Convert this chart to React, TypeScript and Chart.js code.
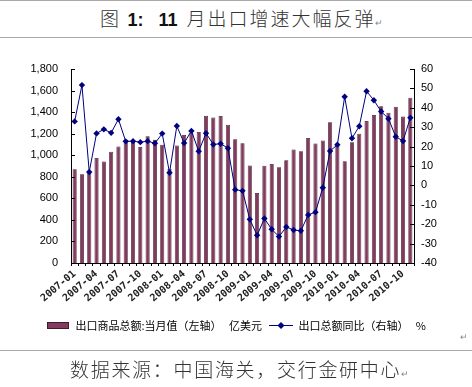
import React, { useEffect, useRef } from "react";
import { Chart, registerables } from "chart.js";

Chart.register(...registerables);

const categories = [
  "2007-01", "2007-02", "2007-03", "2007-04", "2007-05", "2007-06", "2007-07", "2007-08", "2007-09", "2007-10", "2007-11", "2007-12",
  "2008-01", "2008-02", "2008-03", "2008-04", "2008-05", "2008-06", "2008-07", "2008-08", "2008-09", "2008-10", "2008-11", "2008-12",
  "2009-01", "2009-02", "2009-03", "2009-04", "2009-05", "2009-06", "2009-07", "2009-08", "2009-09", "2009-10", "2009-11", "2009-12",
  "2010-01", "2010-02", "2010-03", "2010-04", "2010-05", "2010-06", "2010-07", "2010-08", "2010-09", "2010-10", "2010-11",
];

// 出口商品总额:当月值（亿美元）
const exportValues = [
  869, 824, 837, 974, 942, 1032, 1080, 1130, 1124, 1077, 1176, 1144,
  1097, 874, 1090, 1187, 1205, 1216, 1367, 1349, 1364, 1283, 1149, 1112,
  905, 649, 903, 919, 888, 954, 1054, 1037, 1159, 1108, 1137, 1307,
  1095, 945, 1121, 1199, 1318, 1374, 1455, 1393, 1449, 1360, 1533,
];

// 出口总额同比（%）
const exportYoY = [
  33.0, 51.7, 6.9, 26.8, 28.9, 27.1, 34.1, 22.7, 22.8, 22.3, 22.8, 21.7,
  26.7, 6.5, 30.6, 21.8, 28.1, 17.6, 26.9, 21.1, 21.5, 19.2, -2.2, -2.8,
  -17.5, -25.7, -17.1, -22.6, -26.4, -21.4, -23.0, -23.4, -15.2, -13.8, -1.2, 17.7,
  21.0, 45.7, 24.3, 30.5, 48.5, 43.9, 38.1, 34.4, 25.1, 22.9, 34.9,
];

const barLabel = "出口商品总额:当月值（左轴）   亿美元";
const lineLabel = "出口总额同比（右轴）   %";
const titleMain = "月出口增速大幅反弹";
const sourceText = "数据来源：中国海关，交行金研中心";

const leftMin = 0;
const leftMax = 1800;
const leftStep = 200;
const rightMin = -40;
const rightMax = 60;
const rightStep = 10;

const BAR_COLOR = "#843a5f";
const BAR_BORDER = "#3f1a2d";
const LINE_COLOR = "#000080";

function makeBarSwatch() {
  const c = document.createElement("canvas");
  c.width = 22;
  c.height = 7;
  const g = c.getContext("2d")!;
  g.fillStyle = BAR_COLOR;
  g.fillRect(0, 0, 22, 7);
  g.strokeStyle = BAR_BORDER;
  g.lineWidth = 1;
  g.strokeRect(0.5, 0.5, 21, 6);
  return c;
}

function makeLineSwatch() {
  const c = document.createElement("canvas");
  c.width = 24;
  c.height = 9;
  const g = c.getContext("2d")!;
  g.strokeStyle = LINE_COLOR;
  g.lineWidth = 1;
  g.beginPath();
  g.moveTo(0, 4.5);
  g.lineTo(24, 4.5);
  g.stroke();
  g.fillStyle = LINE_COLOR;
  g.beginPath();
  g.moveTo(12, 1);
  g.lineTo(15.5, 4.5);
  g.lineTo(12, 8);
  g.lineTo(8.5, 4.5);
  g.closePath();
  g.fill();
  return c;
}

const insideTicks = {
  id: "insideTicks",
  afterDraw(chart: any) {
    const ctx = chart.ctx;
    const yl = chart.scales.y;
    const yr = chart.scales.y1;
    ctx.save();
    ctx.strokeStyle = "#000";
    ctx.lineWidth = 1;
    yl.ticks.forEach((t: any) => {
      const y = Math.round(yl.getPixelForValue(t.value)) + 0.5;
      ctx.beginPath();
      ctx.moveTo(yl.right, y);
      ctx.lineTo(yl.right + 4, y);
      ctx.stroke();
    });
    yr.ticks.forEach((t: any) => {
      const y = Math.round(yr.getPixelForValue(t.value)) + 0.5;
      ctx.beginPath();
      ctx.moveTo(yr.left, y);
      ctx.lineTo(yr.left - 4, y);
      ctx.stroke();
    });
    ctx.restore();
  },
};

export default function App() {
  const canvasRef = useRef<HTMLCanvasElement | null>(null);

  useEffect(() => {
    const barSwatch = makeBarSwatch();
    const lineSwatch = makeLineSwatch();
    const chart = new Chart(canvasRef.current!, {
      type: "bar",
      data: {
        labels: categories,
        datasets: [
          {
            type: "bar",
            label: barLabel,
            data: exportValues,
            yAxisID: "y",
            backgroundColor: BAR_COLOR,
            borderColor: BAR_BORDER,
            borderWidth: 0.75,
            barPercentage: 0.56,
            categoryPercentage: 1,
            order: 1,
          },
          {
            type: "line",
            label: lineLabel,
            data: exportYoY,
            yAxisID: "y1",
            borderColor: LINE_COLOR,
            backgroundColor: LINE_COLOR,
            borderWidth: 1,
            pointStyle: "rectRot",
            pointRadius: 3.2,
            pointBorderWidth: 0,
            pointBackgroundColor: LINE_COLOR,
            tension: 0,
            order: 0,
          } as any,
        ],
      },
      options: {
        responsive: false,
        animation: false,
        devicePixelRatio: 1,
        layout: { padding: { top: 31, left: 0, right: 0, bottom: 7 } },
        plugins: {
          tooltip: { enabled: false },
          legend: {
            position: "bottom",
            labels: {
              usePointStyle: true,
              pointStyleWidth: 24,
              boxHeight: 7,
              padding: 7,
              color: "#000",
              font: { family: '"Noto Sans CJK SC", sans-serif', size: 11 },
              sort: (a: any, b: any) => a.datasetIndex - b.datasetIndex,
              generateLabels(ch: any) {
                const items = (Chart.defaults.plugins.legend.labels as any).generateLabels(ch);
                items.forEach((it: any) => {
                  it.pointStyle = it.datasetIndex === 0 ? barSwatch : lineSwatch;
                });
                return items;
              },
            },
          },
        },
        scales: {
          x: {
            offset: true,
            grid: {
              display: true,
              drawOnChartArea: false,
              drawTicks: true,
              tickLength: 3,
              color: "#000",
              offset: true,
            },
            border: { display: true, color: "#000", width: 1 },
            ticks: {
              autoSkip: false,
              minRotation: 40,
              maxRotation: 40,
              padding: 2,
              color: "#222",
              font: { family: '"DejaVu Sans Mono", monospace', size: 10, weight: "bold" },
              callback: (_v: any, i: number) => (i % 3 === 0 ? categories[i] : ""),
            },
            afterFit(scale: any) {
              scale.height = 50;
            },
          },
          y: {
            position: "left",
            min: leftMin,
            max: leftMax,
            grid: { display: false, drawTicks: false },
            border: { display: true, color: "#000", width: 1 },
            ticks: {
              stepSize: leftStep,
              padding: 13,
              color: "#000",
              font: { family: '"Liberation Sans", Arial, sans-serif', size: 11 },
              callback: (v: any) => Number(v).toLocaleString("en-US"),
            },
            afterFit(scale: any) {
              scale.width = 71;
            },
          },
          y1: {
            position: "right",
            min: rightMin,
            max: rightMax,
            grid: { display: false, drawTicks: false },
            border: { display: true, color: "#000", width: 1 },
            ticks: {
              stepSize: rightStep,
              padding: 7,
              color: "#000",
              font: { family: '"Liberation Sans", Arial, sans-serif', size: 11 },
            },
            afterFit(scale: any) {
              scale.width = 58;
            },
          },
        },
      },
      plugins: [insideTicks],
    });
    return () => chart.destroy();
  }, []);

  const cjk = '"Noto Sans CJK SC", sans-serif';
  const rule = (top: number) => (
    <div style={{ position: "absolute", left: 0, top, width: 472, height: 1, background: "#a8a8a8" }} />
  );

  return (
    <div style={{ position: "fixed", left: 0, top: 0, width: 472, height: 387, background: "#fff", overflow: "hidden" }}>
      {rule(0)}
      <div
        style={{
          position: "absolute",
          left: 100,
          top: 6,
          whiteSpace: "nowrap",
          fontFamily: cjk,
          fontWeight: 300,
          fontSize: 19,
          lineHeight: "24px",
          color: "#333",
        }}
      >
        <span>图&nbsp;&nbsp;</span>
        <span style={{ fontFamily: '"Liberation Sans", Arial, sans-serif', fontWeight: "bold", fontSize: 18, color: "#111" }}>1:&nbsp;&nbsp;&nbsp;11</span>
        <span style={{ letterSpacing: 2, marginLeft: 9 }}>{titleMain}</span>
        <span style={{ fontSize: 9, color: "#888" }}>↵</span>
      </div>
      {rule(37)}
      <canvas ref={canvasRef} width={472} height={310} style={{ position: "absolute", left: 0, top: 38, width: 472, height: 310 }} />
      <div style={{ position: "absolute", left: 460, top: 330, fontSize: 9, color: "#888", fontFamily: cjk }}>↵</div>
      {rule(350)}
      <div
        style={{
          position: "absolute",
          left: 70,
          top: 357,
          whiteSpace: "nowrap",
          fontFamily: cjk,
          fontWeight: 300,
          fontSize: 19,
          lineHeight: "24px",
          letterSpacing: 1.7,
          color: "#333",
        }}
      >
        {sourceText}
        <span style={{ fontSize: 9, color: "#888", letterSpacing: 0 }}>↵</span>
      </div>
    </div>
  );
}
